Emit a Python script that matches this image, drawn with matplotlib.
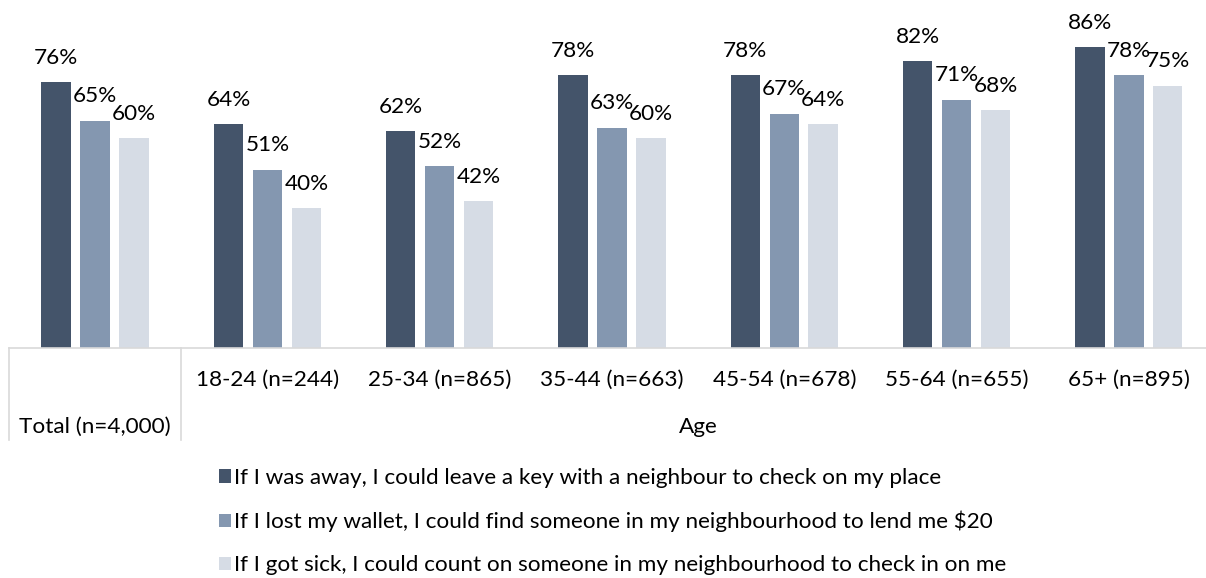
import numpy as np
import matplotlib
matplotlib.use("Agg")
from matplotlib import pyplot as plt

plt.rcParams["font.family"] = ["Lato", "DejaVu Sans"]

# Share of respondents agreeing with each statement, by group
groups = ["Total (n=4,000)", "18-24 (n=244)", "25-34 (n=865)", "35-44 (n=663)",
          "45-54 (n=678)", "55-64 (n=655)", "65+ (n=895)"]
key_with_neighbour = [76, 64, 62, 78, 78, 82, 86]
lend_me_20 = [65, 51, 52, 63, 67, 71, 78]
check_when_sick = [60, 40, 42, 60, 64, 68, 75]

series_labels = [
    "If I was away, I could leave a key with a neighbour to check on my place",
    "If I lost my wallet, I could find someone in my neighbourhood to lend me $20",
    "If I got sick, I could count on someone in my neighbourhood to check in on me",
]
colors = ["#44546A", "#8497B0", "#D6DCE5"]
fs = 16.2

W, H = 1206, 578
fig = plt.figure(figsize=(W / 100, H / 100), dpi=100)

# axes in pixel terms: left 9, right edge off the canvas, baseline at y=348
ax = fig.add_axes([9 / W, (H - 348) / H, 1197 / W, 348 / H])

x = np.arange(len(groups))
bar_w = 0.171
step = 0.226
handles = []
for i, (vals, col) in enumerate(zip([key_with_neighbour, lend_me_20, check_when_sick], colors)):
    pos = x + (i - 1) * step
    bars = ax.bar(pos, vals, width=bar_w, color=col, label=series_labels[i])
    handles.append(bars)
    for p, v in zip(pos, vals):
        ax.annotate(f"{v}%", (p, v), xytext=(0, 17.5), textcoords="offset points",
                    ha="center", va="center", fontsize=fs, color="black")

ax.set_xlim(-0.5, 6.448)
ax.set_ylim(0, 348 / 3.5)
for s in ["top", "left", "right"]:
    ax.spines[s].set_visible(False)
ax.spines["bottom"].set_color("#D9D9D9")
ax.spines["bottom"].set_linewidth(1.2)
ax.set_xticks([])
ax.set_yticks([])

# two-level category axis underneath the bars
trans = ax.get_xaxis_transform()
line_bottom = -92 / 348
for xl in [-0.5, 0.5, 6.5]:
    ax.plot([xl, xl], [0, line_bottom], transform=trans, color="#D9D9D9",
            lw=1.2, clip_on=False)

for xi, g in zip(x[1:], groups[1:]):
    ax.text(xi, -32 / 348, g, transform=trans, ha="center", va="center", fontsize=fs)
ax.text(0, -79 / 348, groups[0], transform=trans, ha="center", va="center", fontsize=fs)
ax.text(3.5, -79 / 348, "Age", transform=trans, ha="center", va="center", fontsize=fs)

fig.legend(handles=handles, loc="upper left", bbox_to_anchor=(219 / W, 1 - 468 / H),
           frameon=False, fontsize=fs, handlelength=0.53, handleheight=0.53,
           handletextpad=0.12, labelspacing=1.02, borderpad=0, borderaxespad=0)

fig.savefig("out.png", dpi=100)
